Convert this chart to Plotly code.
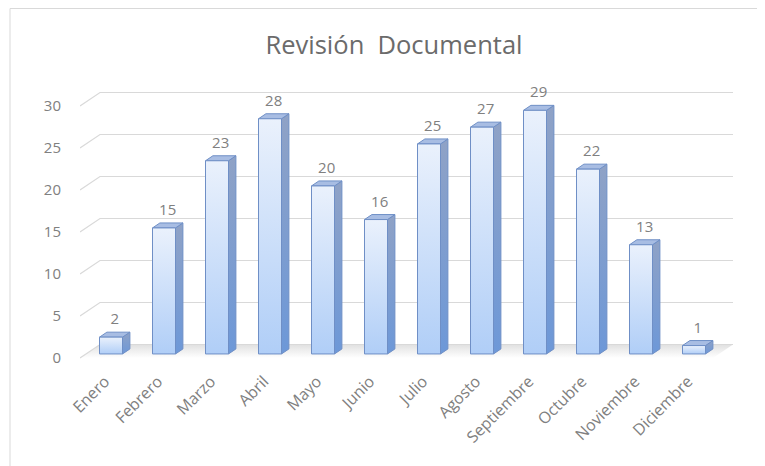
import plotly.graph_objects as go

# ---- data ----
months = ["Enero", "Febrero", "Marzo", "Abril", "Mayo", "Junio", "Julio",
          "Agosto", "Septiembre", "Octubre", "Noviembre", "Diciembre"]
values = [2, 15, 23, 28, 20, 16, 25, 27, 29, 22, 13, 1]
y_ticks = [0, 5, 10, 15, 20, 25, 30]
title_text = "Revisión  Documental"

# ---- layout geometry (page has an 8px body margin, compensate) ----
OFF = 8
W, H = 765, 466
ML, MR, MT, MB = 80 - OFF, 32 + OFF, 90 - OFF, 104 + OFF
PX_X = 53.0   # px per category
PX_Y = 8.4    # px per value unit
plot_w = W - ML - MR
plot_h = H - MT - MB
x0 = -25.0 / PX_X
x_range = [x0, x0 + plot_w / PX_X]
y0 = -4.0 / PX_Y
y_range = [y0, y0 + plot_h / PX_Y]

DX = 20.0 / PX_X      # full depth offset in x
DY = 13.5 / PX_Y      # full depth offset in y
F0, F1 = 0.30, 0.67   # bar front / back depth fractions
BW = 23.0 / PX_X      # bar width
floor_left = x0
floor_right = x_range[1] - DX

fig = go.Figure()

# floor
fig.add_trace(go.Scatter(
    x=[floor_left, floor_right, floor_right + DX, floor_left + DX, floor_left],
    y=[0, 0, DY, DY, 0],
    mode="lines", line=dict(width=0), fill="toself",
    fillgradient=dict(type="vertical",
                      colorscale=[[0, "rgba(255,255,255,1)"], [0.6, "#ededed"], [1, "#e0e0e0"]]),
    hoverinfo="skip", showlegend=False))

# gridlines (left wall diagonal + back wall line)
gx, gy = [], []
for t in y_ticks:
    gx += [floor_left, floor_left + DX, floor_right + DX, None]
    gy += [t, t + DY, t + DY, None]
fig.add_trace(go.Scatter(x=gx, y=gy, mode="lines",
                         line=dict(color="#d9d9d9", width=1.2),
                         hoverinfo="skip", showlegend=False))

outline = "#6f8fc6"
dd = F1 - F0
for i, v in enumerate(values):
    cx = i + F0 * DX
    xl, xr = cx - BW / 2, cx + BW / 2
    yb = F0 * DY
    yt = v + F0 * DY
    ox, oy = dd * DX, dd * DY
    # side face
    fig.add_trace(go.Scatter(
        x=[xr, xr + ox, xr + ox, xr, xr], y=[yb, yb + oy, yt + oy, yt, yb],
        mode="lines", line=dict(color=outline, width=1), fill="toself",
        fillgradient=dict(type="vertical", colorscale=[[0, "#6d98d8"], [1, "#8fa2c6"]]),
        hoverinfo="skip", showlegend=False))
    # top face
    fig.add_trace(go.Scatter(
        x=[xl, xr, xr + ox, xl + ox, xl], y=[yt, yt, yt + oy, yt + oy, yt],
        mode="lines", line=dict(color=outline, width=1), fill="toself",
        fillcolor="#a8bde3", hoverinfo="skip", showlegend=False))
    # front face
    fig.add_trace(go.Scatter(
        x=[xl, xr, xr, xl, xl], y=[yb, yb, yt, yt, yb],
        mode="lines", line=dict(color=outline, width=1), fill="toself",
        fillgradient=dict(type="vertical", colorscale=[[0, "#b0cef7"], [1, "#eaf1fc"]]),
        hoverinfo="skip", showlegend=False))

# data labels
fig.add_trace(go.Scatter(
    x=[i + (F0 + dd / 2) * DX for i in range(len(values))],
    y=[v + F1 * DY + 0.5 for v in values],
    mode="text", text=[str(v) for v in values], textposition="top center",
    textfont=dict(family="Open Sans", size=15, color="#808080"),
    cliponaxis=False, hoverinfo="skip", showlegend=False))

fig.update_layout(
    width=W, height=H,
    margin=dict(l=ML, r=MR, t=MT, b=MB),
    paper_bgcolor="white", plot_bgcolor="white",
    title=dict(text=title_text, x=(394 - OFF - ML) / plot_w, xref="paper", xanchor="center",
               y=1 - (45 - OFF) / H, yanchor="middle",
               font=dict(family="Open Sans", size=25.5, color="#6b6b6b")),
    xaxis=dict(range=x_range, tickvals=list(range(len(months))), ticktext=months,
               tickangle=-45, showgrid=False, zeroline=False, showline=False,
               ticks="", ticklabelstandoff=6,
               tickfont=dict(family="Open Sans", size=16, color="#808080")),
    yaxis=dict(range=y_range, tickvals=y_ticks, showgrid=False, zeroline=False,
               showline=False, ticks="", ticklabelstandoff=18,
               tickfont=dict(family="Open Sans", size=15, color="#808080")),
    shapes=[dict(type="rect", xref="paper", yref="paper",
                 x0=(10 - OFF - ML) / plot_w, x1=2.0,
                 y0=-2.0, y1=(H - MB - 0.5) / plot_h,
                 line=dict(color="#d9d9d9", width=1), fillcolor="rgba(0,0,0,0)",
                 layer="below")],
)

fig.write_html("out.html")
